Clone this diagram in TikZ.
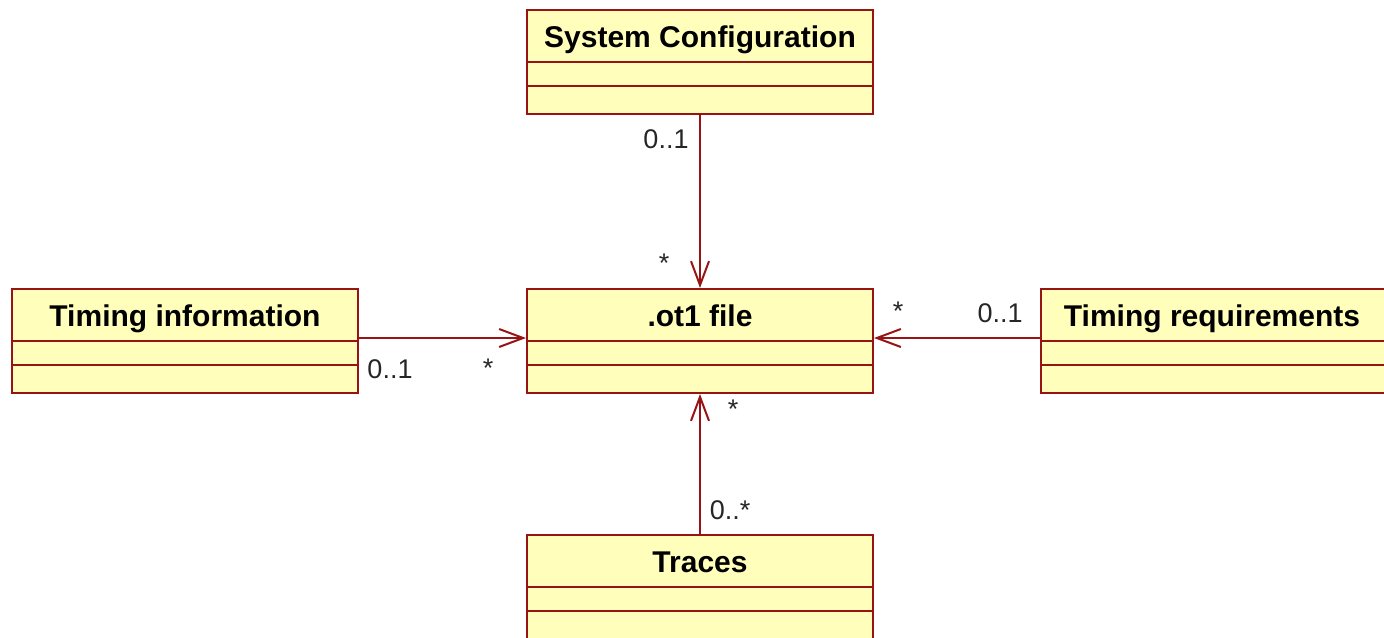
\documentclass[tikz,border=0pt]{standalone}
\usepackage{fontspec}
\setmainfont{Liberation Sans}
\usetikzlibrary{arrows.meta}
\definecolor{umlline}{RGB}{150,20,20}
\definecolor{umlfill}{RGB}{255,255,187}
\begin{document}
\begin{tikzpicture}[x=0.5pt,y=-0.5pt,
  classbox/.style={draw=umlline,fill=umlfill,line width=1pt,rectangle,
    minimum width=173pt,minimum height=52pt,inner sep=0pt,anchor=north west},
  classname/.style={font=\fontsize{15}{18}\selectfont\bfseries,inner sep=0pt,anchor=base},
  divider/.style={umlline,line width=1pt},
  assoc/.style={umlline,line width=1pt,-{Straight Barb[length=12pt,width=9pt,line width=1pt]}},
  mult/.style={font=\fontsize{13.5}{16}\selectfont,text=black!85,inner sep=0pt}]
\useasboundingbox (0,0) rectangle (1384,637);

% class boxes: header + two empty compartments
\node[classbox] (sys)    at (526,9)    {};
\node[classbox] (ot1)    at (526,288)  {};
\node[classbox] (tinfo)  at (11,288)   {};
\node[classbox,minimum width=176pt] (treq) at (1040,288) {};
\node[classbox] (traces) at (526,534)  {};

\foreach \b in {sys,ot1,tinfo,treq,traces}{
  \draw[divider] ([yshift=-26.5pt]\b.north west) -- ([yshift=-26.5pt]\b.north east);
  \draw[divider] ([yshift=-38.5pt]\b.north west) -- ([yshift=-38.5pt]\b.north east);
}

\node[classname] (sysname)    at ([yshift=-19pt]sys.north)    {System Configuration};
\node[classname] (ot1name)    at ([yshift=-19pt]ot1.north)    {.ot1 file};
\node[classname] (tinfoname)  at ([yshift=-19pt]tinfo.north)  {Timing information};
\node[classname] (treqname)   at ([xshift=86pt,yshift=-19pt]treq.north west) {Timing requirements};
\node[classname] (tracesname) at ([yshift=-19pt]traces.north) {Traces};

% associations pointing to the .ot1 file
\draw[assoc] (sys.south) -- (ot1.north);
\draw[assoc] ([yshift=-25pt]tinfo.north east) -- ([yshift=-25pt]ot1.north west);
\draw[assoc] ([yshift=-25pt]treq.north west) -- ([yshift=-25pt]ot1.north east);
\draw[assoc] (traces.north) -- (ot1.south);

% multiplicities
\node[mult] (m1) at (666,139)  {0..1};
\node[mult] (m2) at (664,263)  {*};
\node[mult] (m3) at (390,369)  {0..1};
\node[mult] (m4) at (488,368)  {*};
\node[mult] (m5) at (898,311)  {*};
\node[mult] (m6) at (1000,313) {0..1};
\node[mult] (m7) at (733,409)  {*};
\node[mult] (m8) at (730,510)  {0..*};
\end{tikzpicture}
\end{document}
